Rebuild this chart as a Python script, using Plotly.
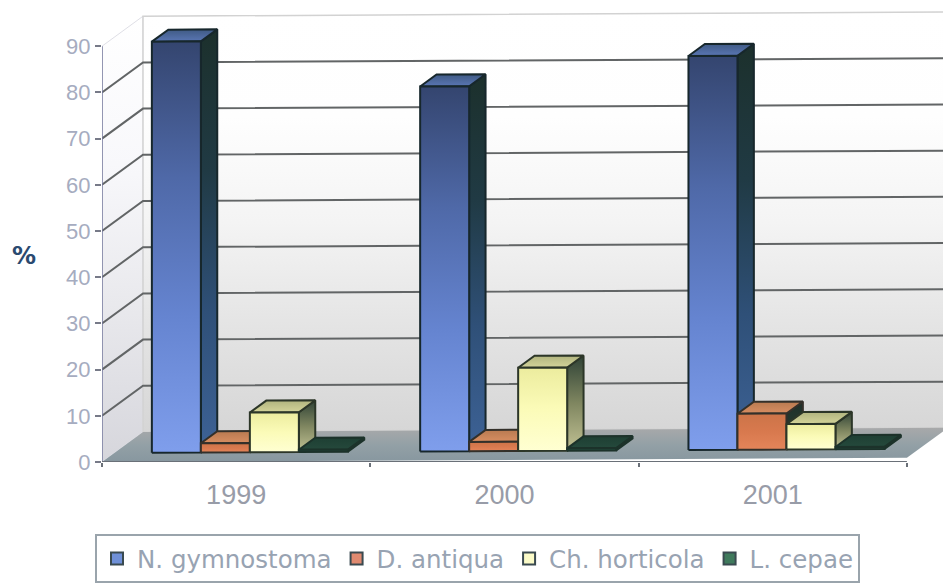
import plotly.graph_objects as go

# Chart data
years = ["1999", "2000", "2001"]
n_gymnostoma = [89, 79, 85.3]
d_antiqua = [2, 2, 7.8]
ch_horticola = [8.6, 18, 5.5]
l_cepae = [0.5, 0.5, 0.5]
y_ticks = [0, 10, 20, 30, 40, 50, 60, 70, 80, 90]

# Drawing constants of the oblique box (axis units)
Y_PER_PX = 1 / 4.62
X_PER_PX = 1 / 268.3
DEPTH_X = 41 * X_PER_PX
DEPTH_Y = 30 * Y_PER_PX
SLOPE = 0.3             # slight upward run of the box per category
X_END = 841 * X_PER_PX
Y_END = 462 * Y_PER_PX
BAR_W = 49 * X_PER_PX
BAR_START = 0.14
Z_FRONT, Z_BACK = 0.3, 0.7

series = [
    dict(name="N. gymnostoma", values=n_gymnostoma, edge="#17272c",
         front=["#7f9eec", "#6584d0", "#4f69a8", "#34456f"],
         side=["#3d6296", "#2f5078", "#203a44", "#1c302c"],
         top=["#5a76b4", "#3f5a84"], swatch="#6f90d8"),
    dict(name="D. antiqua", values=d_antiqua, edge="#33302a",
         front=["#e4855a", "#d8794e", "#cc7448"],
         side=["#2a4034", "#24382f", "#1f3029"],
         top=["#d88e62", "#b87a50"], swatch="#e08a70"),
    dict(name="Ch. horticola", values=ch_horticola, edge="#2c3628",
         front=["#ffffd2", "#fbfbb8", "#ecec9e"],
         side=["#c2c294", "#7f8660", "#2f4236"],
         top=["#d4d49a", "#b0b47e"], swatch="#fbfbc8"),
    dict(name="L. cepae", values=l_cepae, edge="#1c322a",
         front=["#234a3c", "#234a3c", "#234a3c"],
         side=["#1f4034", "#1f4034", "#1f4034"],
         top=["#25493c", "#1e3f33"], swatch="#3f7a5c"),
]


def place(x, value, z):
    """Oblique projection of a point in the box to axis coordinates."""
    return x + z * DEPTH_X, value + z * DEPTH_Y + SLOPE * x


def polygon(points):
    xs, ys = zip(*points)
    return list(xs) + [xs[0]], list(ys) + [ys[0]]


def scale(colors):
    n = len(colors) - 1
    return [[i / n, c] for i, c in enumerate(colors)]


def face(points, colors, edge=None, width=2):
    xs, ys = polygon(points)
    return go.Scatter(
        x=xs, y=ys, mode="lines", fill="toself",
        fillgradient=dict(type="vertical", colorscale=scale(colors)),
        line=dict(color=edge or "rgba(0,0,0,0)", width=width),
        hoverinfo="skip", showlegend=False,
    )


fig = go.Figure()

# Walls and floor
fig.add_trace(face(
    [place(0, 0, 0), place(0, 0, 1), place(0, 90, 1), place(0, 90, 0)],
    ["#d6d6dc", "#e8e8ec", "#f8f8fb", "#ffffff"], "#dfdfe6", 1))
fig.add_trace(face(
    [place(0, 0, 1), place(X_END, 0, 1), place(X_END, 90, 1), place(0, 90, 1)],
    ["#d6d6d6", "#e4e4e4", "#f4f4f4", "#fefefe", "#ffffff"], "#d2d2d2", 1.5))

# Gridlines over the left and back walls
grid_x, grid_y = [], []
for v in y_ticks[1:-1]:
    for p in (place(0, v, 0), place(0, v, 1), place(X_END, v, 1)):
        grid_x.append(p[0])
        grid_y.append(p[1])
    grid_x.append(None)
    grid_y.append(None)
fig.add_trace(go.Scatter(x=grid_x, y=grid_y, mode="lines",
                         line=dict(color="#626566", width=2),
                         hoverinfo="skip", showlegend=False))

fig.add_trace(face(
    [place(0, 0, 0), place(3, 0, 0), place(3, 0, 1), place(0, 0, 1)],
    ["#87979f", "#93a0a6", "#a8a9aa"], None))

# Bars, painted left to right so that nearer faces overlap correctly
for year_index in range(len(years)):
    for k, s in enumerate(series):
        v = s["values"][year_index]
        x0 = year_index + BAR_START + k * BAR_W
        x1 = x0 + BAR_W
        fig.add_trace(face(
            [place(x1, 0, Z_FRONT), place(x1, 0, Z_BACK),
             place(x1, v, Z_BACK), place(x1, v, Z_FRONT)],
            s["side"], s["edge"]))
        fig.add_trace(face(
            [place(x0, v, Z_FRONT), place(x1, v, Z_FRONT),
             place(x1, v, Z_BACK), place(x0, v, Z_BACK)],
            s["top"], s["edge"]))
        fig.add_trace(face(
            [place(x0, 0, Z_FRONT), place(x1, 0, Z_FRONT),
             place(x1, v, Z_FRONT), place(x0, v, Z_FRONT)],
            s["front"], s["edge"]))

# Axis lines, limited to the extent of the box
fig.add_trace(go.Scatter(x=[0, 0], y=[0, 90], mode="lines",
                         line=dict(color="#74789c", width=1.5),
                         hoverinfo="skip", showlegend=False, cliponaxis=False))
fig.add_trace(go.Scatter(x=[0, 3], y=[0, 0], mode="lines",
                         line=dict(color="#6a7078", width=2),
                         hoverinfo="skip", showlegend=False, cliponaxis=False))

# Legend entries
for s in series:
    fig.add_trace(go.Scatter(
        x=[None], y=[None], mode="markers", name=s["name"],
        marker=dict(symbol="square", size=16, color=s["swatch"],
                    line=dict(color="#3a4a50", width=1.5)),
    ))

fig.update_layout(
    width=943, height=584,
    margin=dict(l=102, r=0, t=0, b=122, autoexpand=False),
    paper_bgcolor="white", plot_bgcolor="white",
    font=dict(family="Liberation Sans", color="#8b96aa"),
    xaxis=dict(
        range=[0, X_END], showgrid=False, zeroline=False, showline=False,
        tickmode="array", tickvals=[0.5, 1.5, 2.5], ticktext=years,
        ticks="", ticklabelstandoff=14,
        tickfont=dict(size=27, color="#989ca8"),
        minor=dict(ticks="outside", ticklen=4, tickwidth=1.5, tickcolor="#6a7078",
                   tickmode="array", tickvals=[0, 1, 2, 3], showgrid=False),
    ),
    yaxis=dict(
        range=[0, Y_END], showgrid=False, zeroline=False, showline=False,
        tickmode="array", tickvals=y_ticks, ticks="outside", ticklen=6,
        tickwidth=1.5, tickcolor="#777a88",
        tickfont=dict(size=22, color="#a6acc0"),
    ),
    showlegend=True,
    legend=dict(
        orientation="h", x=(95 - 102) / 841, y=(462 - 534) / 462,
        xanchor="left", yanchor="top", bgcolor="white",
        bordercolor="#9aa4ac", borderwidth=2,
        font=dict(family="DejaVu Sans", size=24.5, color="#98a3b2"),
        itemsizing="constant", itemwidth=30,
    ),
    annotations=[dict(
        text="<b>%</b>", xref="paper", yref="paper",
        x=(24 - 102) / 841, y=(462 - 256) / 462, showarrow=False,
        xanchor="center", yanchor="middle",
        font=dict(family="DejaVu Sans", size=24, color="#2a4a70"),
    )],
)

fig.write_html("out.html")
